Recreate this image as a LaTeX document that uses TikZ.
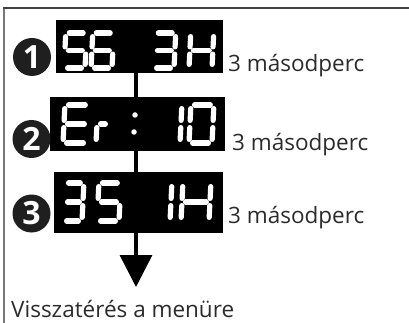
\documentclass[tikz,border=0pt]{standalone}
\usepackage{fontspec}
\setmainfont{Open Sans}
\usetikzlibrary{arrows.meta}
\definecolor{txt}{HTML}{2B2B2B}
\definecolor{framec}{HTML}{777777}
\tikzset{
 disp/.style={fill=black, inner sep=0pt, draw=none},
 seg/.style={draw=white, line width=5.2pt, line cap=round},
 dot/.style={circle, fill=white, minimum size=5.5pt, inner sep=0pt},
 num/.style={circle, fill=black!88, text=white, minimum size=38pt, inner sep=0pt, font=\bfseries\fontsize{32}{32}\selectfont},
 lbl/.style={anchor=base west, inner sep=0pt, text=txt, font=\fontsize{22.5}{27}\selectfont},
 conn/.style={line width=3.6pt, draw=black},
}
\newcommand\segpt[3]{\coordinate (#1) at ({#2+0.05*(\sh-(#3))},{#3});}
\newcommand\sdigit[5]{%
 \begin{scope}[shift={(#1,#2)}]
 \def\sw{#3}\def\sh{#4}\def\sg{3.6}
 \segpt{s-a-1}{\sg}{0} \segpt{s-a-2}{\sw-\sg}{0}
 \segpt{s-b-1}{\sw}{\sg} \segpt{s-b-2}{\sw}{\sh/2-\sg}
 \segpt{s-c-1}{\sw}{\sh/2+\sg} \segpt{s-c-2}{\sw}{\sh-\sg}
 \segpt{s-d-1}{\sg}{\sh} \segpt{s-d-2}{\sw-\sg}{\sh}
 \segpt{s-e-1}{0}{\sh/2+\sg} \segpt{s-e-2}{0}{\sh-\sg}
 \segpt{s-f-1}{0}{\sg} \segpt{s-f-2}{0}{\sh/2-\sg}
 \segpt{s-g-1}{\sg}{\sh/2} \segpt{s-g-2}{\sw-\sg}{\sh/2}
 \foreach \s in {#5} {\draw[seg] (s-\s-1) -- (s-\s-2);}
 \end{scope}}
\begin{document}
\begin{tikzpicture}[x=1pt,y=-1pt]
\useasboundingbox (0,0) rectangle (409,323);
% frame
\draw[framec, line width=1.5pt] (4,323) -- (4,8);
\draw[black!75, line width=2pt] (3.25,8) -- (409,8);
% displays
\node[disp, minimum width=167pt, minimum height=53pt] (d1) at (139.5,46.5) {};
\node[disp, minimum width=175pt, minimum height=54pt] (d2) at (137.5,124) {};
\node[disp, minimum width=169pt, minimum height=61pt] (d3) at (138.5,202.5) {};
% connectors
\coordinate (tip) at (136,287);
\draw[conn] (d1.south -| tip) -- (d2.north -| tip);
\draw[conn] (d2.south -| tip) -- (d3.north -| tip);
\draw[conn, -{Triangle[width=32pt,length=32pt]}] (d3.south -| tip) -- (tip);
% display 1: 56 3H
\sdigit{64}{33}{21}{35}{a,f,g,c,d}
\sdigit{91}{33}{21}{35}{a,f,g,e,c,d}
\sdigit{153}{33}{21}{35}{a,b,g,c,d}
\sdigit{189}{33}{23}{35}{f,e,g,b,c}
% display 2: Er:10
\sdigit{63}{105}{24}{38}{a,f,g,e,d}
\sdigit{96}{105}{12}{38}{g,e}
\node[dot] (c1) at (135,115) {};
\node[dot] (c2) at (134,132) {};
\sdigit{159}{105}{21}{38}{b,c}
\sdigit{189}{105}{23}{38}{a,b,c,d,e,f}
% display 3: 35 1H
\sdigit{63}{183}{19}{38}{a,b,g,c,d}
\sdigit{97}{183}{22}{38}{a,f,g,c,d}
\sdigit{149}{183}{21}{38}{b,c}
\sdigit{181}{183}{28}{38}{f,e,g,b,c}
% numbers
\node[num] (n1) at (32,57) {1};
\node[num] (n2) at (31.5,139) {2};
\node[num] (n3) at (31.5,213.5) {3};
% labels
\node[lbl] (l1) at (228,72) {3 másodperc};
\node[lbl] (l2) at (232,150) {3 másodperc};
\node[lbl] (l3) at (228,223) {3 másodperc};
\node[lbl] (back) at (11,317) {Visszatérés a menüre};
\end{tikzpicture}
\end{document}
